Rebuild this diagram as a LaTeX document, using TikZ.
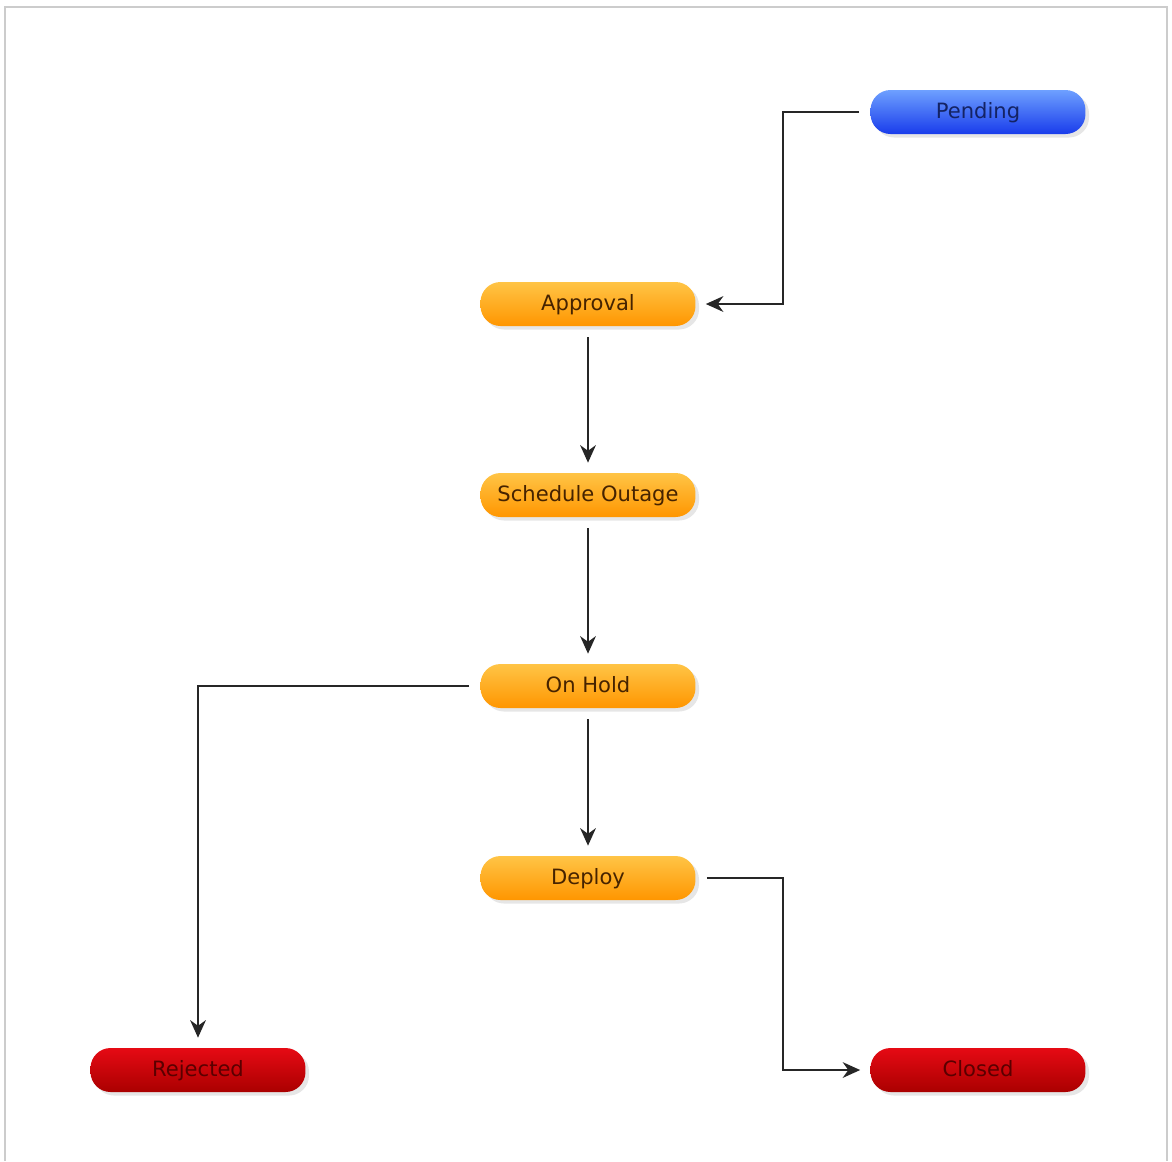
\documentclass[tikz,border=0pt]{standalone}
\usepackage{fontspec}
\setmainfont{DejaVu Sans}
\usepackage{tikz}
\usetikzlibrary{arrows.meta,calc,positioning,shadows}
\definecolor{bluetop}{RGB}{110,160,255}
\definecolor{bluebot}{RGB}{25,60,235}
\definecolor{bluetxt}{RGB}{20,35,100}
\definecolor{orgtop}{RGB}{255,196,70}
\definecolor{orgbot}{RGB}{255,150,0}
\definecolor{orgtxt}{RGB}{70,35,0}
\definecolor{redtop}{RGB}{230,10,20}
\definecolor{redbot}{RGB}{170,0,0}
\definecolor{redtxt}{RGB}{90,0,0}
\definecolor{framec}{RGB}{204,204,204}

\begin{document}
\begin{tikzpicture}[x=0.02cm,y=-0.02cm,>={Stealth[length=10pt,width=9pt]},
  state/.style={rounded corners=0.4cm,minimum width=4.3cm,minimum height=0.88cm,
    inner sep=0pt,text height=1.85ex,text depth=0.45ex,
    font=\fontsize{12}{14}\selectfont,
    drop shadow={shadow xshift=2pt,shadow yshift=-2pt,opacity=0.2}},
  pendst/.style={state,top color=bluetop,bottom color=bluebot,text=bluetxt},
  workst/.style={state,top color=orgtop,bottom color=orgbot,text=orgtxt},
  endst/.style={state,top color=redtop,bottom color=redbot,text=redtxt},
  conn/.style={->,line width=0.9pt,draw=black!85,shorten <=0.22cm,shorten >=0.2cm}]
  \useasboundingbox (0,0) rectangle (1172,1161);
  \draw[framec,line width=1.2pt] (5,1161) -- (5,7) -- (1167,7) -- (1167,1161);
  % states
  \node[pendst] (P) at (978,112) {Pending};
  \node[workst] (A) at (588,304) {Approval};
  \node[workst] (S) at (588,495) {Schedule Outage};
  \node[workst] (H) at (588,686) {On Hold};
  \node[workst] (D) at (588,878) {Deploy};
  \node[endst] (R) at (198,1070) {Rejected};
  \node[endst] (C) at (978,1070) {Closed};
  % transitions
  \draw[conn] (P.west) -- ++(-87,0) |- (A.east);
  \draw[conn] (A.south) -- (S.north);
  \draw[conn] (S.south) -- (H.north);
  \draw[conn] (H.south) -- (D.north);
  \draw[conn] (H.west) -| (R.north);
  \draw[conn] (D.east) -- ++(87,0) |- (C.west);
\end{tikzpicture}
\end{document}
